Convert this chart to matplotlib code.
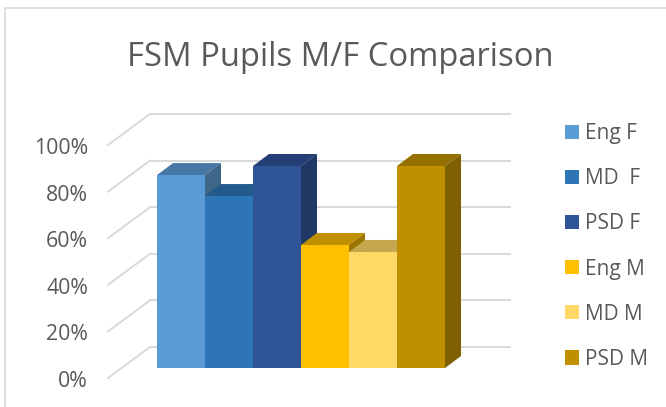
import matplotlib
matplotlib.use('Agg')
import matplotlib.pyplot as plt
from matplotlib.patches import Polygon

plt.rcParams['font.family'] = ['Open Sans', 'DejaVu Sans']

names = ['Eng F', 'MD  F', 'PSD F', 'Eng M', 'MD M', 'PSD M']
values = [82.8, 73.8, 86.7, 52.8, 49.8, 86.7]
ticks = [0, 20, 40, 60, 80, 100]
tick_labels = ['0%', '20%', '40%', '60%', '80%', '100%']

front_cols = ['#5B9BD5', '#2E75B6', '#2F5597', '#FFC000', '#FFD966', '#BF8F00']
top_cols = ['#4777A4', '#235A8C', '#243F75', '#C09000', '#C4A64F', '#957000']
side_cols = ['#3E6688', '#1F4E79', '#1F3864', '#9C7500', '#9C7500', '#7F6000']
grey = '#595959'
line = '#D9D9D9'

W, H = 666, 407
px_x = 48.0    # pixels per bar
px_y = 2.33    # pixels per percent
x0 = 157       # left of first bar, pixels
y0 = 368       # floor under the bars, pixels from top


def xu(p):
    return p / px_x


def yu(p):
    return p / px_y


fig = plt.figure(figsize=(W / 100, H / 100), dpi=100)
ax = fig.add_axes([0, 0, 1, 1])
ax.set_xlim(-xu(x0), xu(W - x0))
ax.set_ylim(-yu(H - y0), yu(y0))
ax.axis('off')

# outer frame of the chart
ax.plot([xu(5 - x0)] * 2, [-yu(H - y0), yu(y0 - 8)], color=line, lw=1.2, zorder=1)
ax.plot([xu(5 - x0), xu(W - x0)], [yu(y0 - 8)] * 2, color=line, lw=1.2, zorder=1)

# gridlines: side wall then back wall
for t, lab in zip(ticks, tick_labels):
    y_front = t - yu(10)
    y_back = t + yu(21)
    ax.plot([xu(108 - x0), xu(150 - x0)], [y_front, y_back], color=line, lw=1.4, zorder=1)
    ax.plot([xu(150 - x0), xu(510 - x0)], [y_back, y_back], color=line, lw=1.4, zorder=1)
    ax.text(xu(88 - x0), y_front - yu(3.5), lab, ha='right', va='center', fontsize=15.3, color=grey)

# bars, left to right so each front covers the neighbour's side
dx = xu(16)
dy = yu(12)
for i, v in enumerate(values):
    z = 3 + i
    ax.bar(i, v, width=1, align='edge', color=front_cols[i], label=names[i], zorder=z + 0.5)
    ax.add_patch(Polygon([(i, v), (i + 1, v), (i + 1 + dx, v + dy), (i + dx, v + dy)],
                         color=top_cols[i], lw=0, zorder=z))
    ax.add_patch(Polygon([(i + 1, 0), (i + 1 + dx, dy), (i + 1 + dx, v + dy), (i + 1, v)],
                         color=side_cols[i], lw=0, zorder=z))

ax.text(xu(340 - x0), yu(y0 - 58), 'FSM Pupils M/F Comparison', ha='center', va='center',
        fontsize=23.6, color=grey)

leg = ax.legend(loc='upper left', bbox_to_anchor=(565 / W, 1 - 123 / H), frameon=False,
                fontsize=15, labelcolor=grey, handlelength=0.67, handleheight=0.67,
                handletextpad=0.29, labelspacing=1.16, borderpad=0, borderaxespad=0)

plt.savefig('out.png', dpi=100)
